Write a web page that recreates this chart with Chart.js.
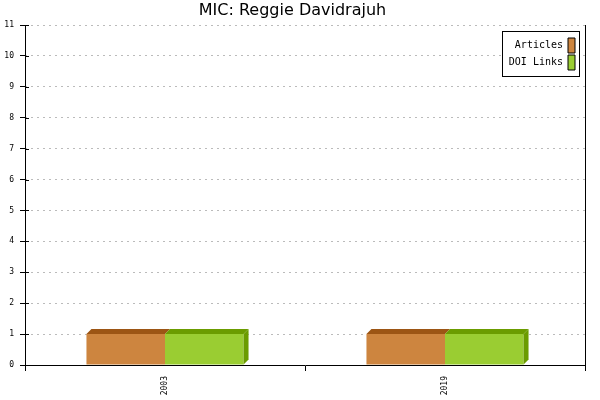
<!DOCTYPE html>
<html><head><meta charset="utf-8">
<script src="https://cdn.jsdelivr.net/npm/chart.js@4/dist/chart.umd.min.js"></script>
<style>html,body{margin:0;padding:0;background:#fff}</style>
</head><body>
<canvas id="c" width="600" height="400"></canvas>
<script>
const titleText = 'MIC: Reggie Davidrajuh';
const categories = ['2003', '2019'];
const articles = [1, 1];
const doiLinks = [1, 1];
const seriesNames = ['Articles', 'DOI Links'];
const yMin = 0, yMax = 11, yStep = 1;

const MONO = "'DejaVu Sans Mono', monospace";

const bar3d = {
  id: 'bar3d',
  afterDatasetsDraw(chart) {
    const ctx = chart.ctx, d = 5;
    const n = chart.data.datasets.length;
    ctx.save();
    chart.data.datasets.forEach((ds, i) => {
      const meta = chart.getDatasetMeta(i);
      meta.data.forEach(el => {
        const p = el.getProps(['x', 'y', 'base', 'width'], true);
        const l = p.x - p.width / 2, r = p.x + p.width / 2, y = p.y, b = p.base;
        ctx.fillStyle = ds.depthColor;
        ctx.beginPath();
        ctx.moveTo(l, y); ctx.lineTo(l + d, y - d); ctx.lineTo(r + d, y - d); ctx.lineTo(r, y);
        ctx.closePath(); ctx.fill();
        if (i === n - 1) {
          ctx.beginPath();
          ctx.moveTo(r, y); ctx.lineTo(r + d, y - d); ctx.lineTo(r + d, b - d); ctx.lineTo(r, b);
          ctx.closePath(); ctx.fill();
        }
      });
    });
    ctx.restore();
  }
};

const extras = {
  id: 'extras',
  afterLayout(chart) {
    const lg = chart.legend;
    if (!lg) return;
    const w = lg.width;
    lg.right = 577; lg.left = 577 - w;
    lg.top = 36; lg.bottom = 395; lg.height = 359;
  },
  afterDraw(chart) {
    const ctx = chart.ctx;
    const ys = chart.scales.y;
    ctx.save();
    ctx.strokeStyle = '#000'; ctx.lineWidth = 1;
    ys.ticks.forEach((t, i) => {
      const py = Math.round(ys.getPixelForTick(i)) + 0.5;
      ctx.beginPath(); ctx.moveTo(ys.right, py); ctx.lineTo(ys.right + 4, py); ctx.stroke();
    });
    ctx.fillStyle = '#fff';
    ctx.fillRect(502, 31, 78, 46);
    ctx.strokeStyle = '#000';
    ctx.strokeRect(502.5, 31.5, 77, 45);
    ctx.restore();
    if (chart.legend) chart.legend.draw();
  }
};

new Chart(document.getElementById('c'), {
  type: 'bar',
  data: {
    labels: categories,
    datasets: [
      { label: seriesNames[0], data: articles, backgroundColor: '#CD853F', depthColor: '#9C5514', borderWidth: 0 },
      { label: seriesNames[1], data: doiLinks, backgroundColor: '#9ACD32', depthColor: '#6B9C00', borderWidth: 0 }
    ]
  },
  options: {
    responsive: false,
    animation: false,
    events: [],
    layout: { padding: { top: 0, right: 15, bottom: 0, left: 0 } },
    datasets: { bar: { categoryPercentage: 0.561, barPercentage: 1.0 } },
    plugins: {
      title: {
        display: true, text: titleText, color: '#000',
        font: { family: "'DejaVu Sans', sans-serif", size: 16, weight: 'normal', lineHeight: 1.2 },
        padding: { top: 1, bottom: 4.8 }
      },
      legend: {
        display: true, position: 'chartArea', align: 'start', rtl: true,
        labels: {
          color: '#000', font: { family: MONO, size: 10 },
          boxWidth: 7, boxHeight: 15, padding: 2,
          generateLabels(chart) {
            return Chart.defaults.plugins.legend.labels.generateLabels(chart).map(it => {
              it.strokeStyle = '#000'; it.lineWidth = 1; return it;
            });
          }
        }
      },
      tooltip: { enabled: false }
    },
    scales: {
      x: {
        type: 'category',
        offset: true,
        grid: { display: true, offset: true, drawOnChartArea: false, drawTicks: true, tickLength: 6, color: '#000', tickColor: '#000' },
        border: { display: true, color: '#000', width: 1 },
        ticks: { color: '#000', font: { family: MONO, size: 8 }, minRotation: 90, maxRotation: 90, padding: 5, autoSkip: false },
        afterFit(s) { s.height = 35; }
      },
      y: {
        position: 'left',
        min: yMin, max: yMax,
        grid: {
          color: ctx => (ctx.tick && ctx.tick.value === 0) ? 'rgba(0,0,0,0)' : '#bbbbbb',
          tickColor: '#000', tickLength: 5, tickBorderDash: [], drawTicks: true
        },
        border: { display: true, color: '#000', width: 1, dash: [2, 4], dashOffset: -5 },
        ticks: { stepSize: yStep, color: '#000', font: { family: MONO, size: 8 }, padding: 6 },
        afterFit(s) { s.width = 25; }
      },
      y2: {
        position: 'right',
        min: yMin, max: yMax,
        grid: { drawOnChartArea: false, drawTicks: false },
        border: { display: true, color: '#000', width: 1 },
        ticks: { display: false },
        afterFit(s) { s.width = 0; }
      }
    }
  },
  plugins: [bar3d, extras]
});
</script>
</body></html>
